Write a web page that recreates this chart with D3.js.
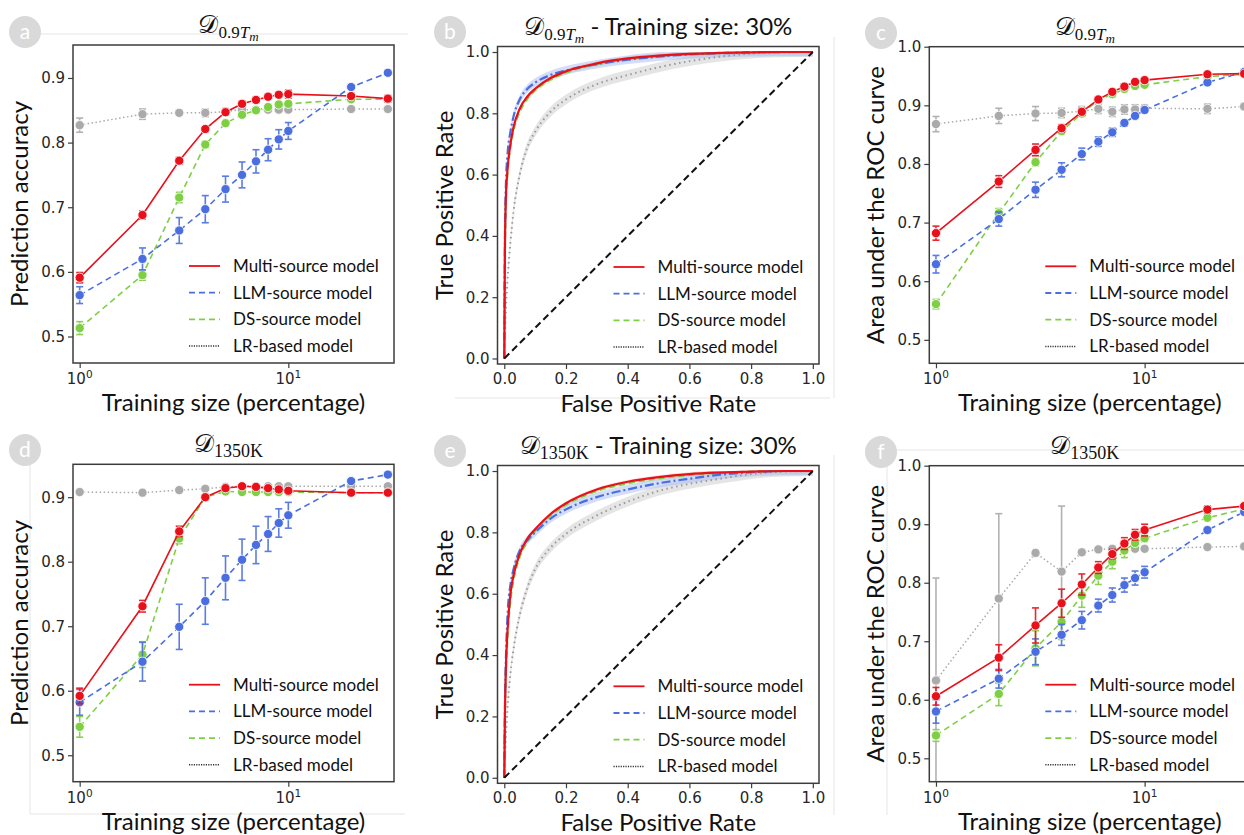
<!DOCTYPE html>
<html>
<head>
<meta charset="utf-8">
<script src="https://cdn.jsdelivr.net/npm/d3@7"></script>
<style>
  body { margin: 0; background: #fff; }
  svg { display: block; font-family: Lato, "Open Sans", sans-serif; }
</style>
</head>
<body>
<svg id="chart" width="1244" height="835"></svg>
<script>
// ---------- data ----------
const sizes = [1, 2, 3, 4, 5, 6, 7, 8, 9, 10, 20, 30];
const seriesNames = ['Multi-source model', 'LLM-source model', 'DS-source model', 'LR-based model'];

// panel a: prediction accuracy, D_0.9Tm
const accA_multi = [0.591, 0.688, 0.772, 0.821, 0.847, 0.860, 0.866, 0.871, 0.874, 0.875, 0.872, 0.868];
const accA_llm   = [0.564, 0.620, 0.664, 0.697, 0.728, 0.750, 0.771, 0.789, 0.805, 0.818, 0.886, 0.908];
const accA_ds    = [0.513, 0.595, 0.715, 0.797, 0.830, 0.843, 0.850, 0.855, 0.859, 0.860, 0.867, 0.867];
const accA_lr    = [0.827, 0.844, 0.846, 0.846, 0.848, 0.851, 0.851, 0.851, 0.851, 0.851, 0.852, 0.852];
const errA_multi = [0.008, 0.006, 0.005, 0.004, 0.004, 0.004, 0.004, 0.004, 0.004, 0.006, 0.004, 0.005];
const errA_llm   = [0.013, 0.017, 0.020, 0.021, 0.020, 0.020, 0.018, 0.017, 0.015, 0.013, 0.003, 0.003];
const errA_ds    = [0.010, 0.008, 0.008, 0.005, 0.004, 0.004, 0.004, 0.004, 0.004, 0.003, 0.003, 0.003];
const errA_lr    = [0.011, 0.008, 0.004, 0.006, 0.005, 0.004, 0.004, 0.004, 0.004, 0.004, 0.003, 0.003];

// panel c: AUC, D_0.9Tm
const aucC_multi = [0.682, 0.770, 0.824, 0.861, 0.889, 0.910, 0.923, 0.932, 0.940, 0.943, 0.953, 0.954];
const aucC_llm   = [0.629, 0.706, 0.756, 0.790, 0.817, 0.838, 0.854, 0.870, 0.882, 0.892, 0.939, 0.957];
const aucC_ds    = [0.561, 0.716, 0.803, 0.856, 0.886, 0.909, 0.919, 0.928, 0.933, 0.935, 0.949, 0.953];
const aucC_lr    = [0.868, 0.882, 0.886, 0.887, 0.890, 0.894, 0.889, 0.893, 0.893, 0.895, 0.894, 0.898];
const errC_multi = [0.012, 0.010, 0.010, 0.006, 0.006, 0.004, 0.004, 0.004, 0.004, 0.004, 0.003, 0.003];
const errC_llm   = [0.015, 0.012, 0.013, 0.012, 0.010, 0.008, 0.007, 0.005, 0.004, 0.004, 0.004, 0.004];
const errC_ds    = [0.008, 0.008, 0.006, 0.005, 0.005, 0.004, 0.004, 0.004, 0.004, 0.004, 0.003, 0.003];
const errC_lr    = [0.013, 0.013, 0.012, 0.008, 0.008, 0.008, 0.008, 0.008, 0.008, 0.006, 0.008, 0.005];

// panel d: prediction accuracy, D_1350K
const accD_multi = [0.592, 0.731, 0.847, 0.900, 0.914, 0.917, 0.916, 0.914, 0.912, 0.910, 0.907, 0.907];
const accD_llm   = [0.582, 0.645, 0.699, 0.739, 0.775, 0.803, 0.826, 0.843, 0.860, 0.872, 0.925, 0.935];
const accD_ds    = [0.544, 0.656, 0.836, 0.900, 0.909, 0.908, 0.908, 0.908, 0.908, 0.908, 0.907, 0.907];
const accD_lr    = [0.908, 0.907, 0.911, 0.913, 0.916, 0.917, 0.917, 0.917, 0.917, 0.917, 0.917, 0.917];
const errD_multi = [0.012, 0.009, 0.008, 0.004, 0.003, 0.003, 0.003, 0.003, 0.003, 0.003, 0.002, 0.002];
const errD_llm   = [0.020, 0.030, 0.035, 0.036, 0.034, 0.032, 0.029, 0.027, 0.022, 0.020, 0.003, 0.003];
const errD_ds    = [0.016, 0.020, 0.008, 0.004, 0.003, 0.003, 0.003, 0.003, 0.003, 0.003, 0.002, 0.002];
const errD_lr    = [0.003, 0.003, 0.003, 0.003, 0.003, 0.003, 0.003, 0.003, 0.003, 0.003, 0.003, 0.003];

// panel f: AUC, D_1350K
const aucF_multi = [0.606, 0.672, 0.727, 0.765, 0.797, 0.826, 0.849, 0.867, 0.882, 0.890, 0.925, 0.931];
const aucF_llm   = [0.580, 0.636, 0.682, 0.711, 0.736, 0.761, 0.779, 0.796, 0.808, 0.818, 0.890, 0.921];
const aucF_ds    = [0.539, 0.610, 0.688, 0.733, 0.778, 0.812, 0.836, 0.855, 0.868, 0.876, 0.911, 0.926];
const aucF_lr    = [0.633, 0.773, 0.851, 0.819, 0.852, 0.857, 0.858, 0.858, 0.858, 0.858, 0.861, 0.862];
const errF_multi = [0.015, 0.022, 0.030, 0.024, 0.018, 0.010, 0.008, 0.010, 0.009, 0.010, 0.006, 0.004];
const errF_llm   = [0.020, 0.016, 0.022, 0.018, 0.015, 0.011, 0.012, 0.012, 0.012, 0.010, 0.004, 0.004];
const errF_ds    = [0.010, 0.020, 0.030, 0.030, 0.020, 0.015, 0.012, 0.012, 0.008, 0.006, 0.005, 0.004];
const errF_lr    = [0.175, 0.145, 0.005, 0.112, 0.005, 0.004, 0.004, 0.004, 0.004, 0.004, 0.004, 0.004];

// ROC curves at 30% training size
const fpr = [0, 0.002, 0.005, 0.01, 0.02, 0.03, 0.05, 0.075, 0.1, 0.15, 0.2, 0.3, 0.4, 0.5, 0.6, 0.7, 0.8, 0.9, 1.0];
const rocB_multi = [0, 0.35, 0.52, 0.61, 0.70, 0.755, 0.815, 0.855, 0.88, 0.915, 0.937, 0.963, 0.979, 0.988, 0.994, 0.997, 0.999, 1, 1];
const rocB_llm   = [0, 0.38, 0.56, 0.66, 0.74, 0.79, 0.845, 0.88, 0.90, 0.925, 0.94, 0.96, 0.975, 0.985, 0.992, 0.996, 0.999, 1, 1];
const rocB_ds    = [0, 0.33, 0.50, 0.60, 0.69, 0.745, 0.805, 0.848, 0.875, 0.91, 0.933, 0.96, 0.977, 0.987, 0.993, 0.997, 0.999, 1, 1];
const rocB_lr    = [0, 0.08, 0.16, 0.25, 0.38, 0.48, 0.60, 0.69, 0.74, 0.805, 0.845, 0.895, 0.925, 0.95, 0.97, 0.985, 0.995, 0.999, 1];
const rocE_multi = [0, 0.20, 0.35, 0.47, 0.60, 0.66, 0.73, 0.78, 0.81, 0.86, 0.895, 0.94, 0.965, 0.98, 0.99, 0.995, 0.998, 1, 1];
const rocE_llm   = [0, 0.22, 0.38, 0.52, 0.63, 0.68, 0.74, 0.775, 0.80, 0.845, 0.875, 0.915, 0.94, 0.96, 0.975, 0.988, 0.996, 1, 1];
const rocE_ds    = [0, 0.19, 0.33, 0.45, 0.58, 0.645, 0.72, 0.77, 0.805, 0.855, 0.89, 0.935, 0.96, 0.976, 0.987, 0.994, 0.998, 1, 1];
const rocE_lr    = [0, 0.06, 0.13, 0.22, 0.34, 0.42, 0.53, 0.62, 0.68, 0.75, 0.795, 0.855, 0.90, 0.935, 0.958, 0.975, 0.99, 0.998, 1];
// half width of the shaded band around each ROC curve (multi, llm, ds, lr)
const rocBand = [0.006, 0.014, 0.008, 0.016];

const accTicks = [0.5, 0.6, 0.7, 0.8, 0.9];
const aucTicks = [0.5, 0.6, 0.7, 0.8, 0.9, 1.0];
const rocTicks = [0, 0.2, 0.4, 0.6, 0.8, 1.0];

// ---------- styles ----------
const colors = ['#e8101a', '#4a6ee0', '#7fcf45', '#aaaaaa'];
const dashes = [null, '6,4', '6,4', '1.5,2.5'];
const rocDashes = [null, '9,3,2,3', '6,4', '1.5,3.5'];

const svg = d3.select('#chart');
const tickFont = '"DejaVu Sans", sans-serif';

// faint panel separators
const sep = svg.append('g').attr('stroke', '#eeeeee').attr('stroke-width', 1.5);
[[40, 34, 408, 34], [455, 398, 830, 398], [834, 37, 834, 398], [30, 462, 30, 814],
 [30, 814, 405, 814], [897, 450, 1244, 450], [834, 455, 834, 815], [887, 455, 887, 815]]
  .forEach(l => sep.append('line').attr('x1', l[0]).attr('y1', l[1]).attr('x2', l[2]).attr('y2', l[3]));

function panelBadge(cx, cy, letter) {
  svg.append('circle').attr('cx', cx).attr('cy', cy).attr('r', 16).attr('fill', '#d9d9d9');
  svg.append('text').attr('x', cx).attr('y', cy + 7).attr('text-anchor', 'middle')
    .attr('fill', '#fff').attr('font-size', 21).text(letter);
}

function addTitle(cx, y, dataset, suffix) {
  const t = svg.append('text').attr('x', cx).attr('y', y).attr('text-anchor', 'middle')
    .attr('fill', '#111').attr('font-size', 24);
  t.append('tspan').attr('font-family', '"DejaVu Serif", serif').attr('font-size', 25).text('𝒟');
  if (dataset === '0.9Tm') {
    t.append('tspan').attr('font-family', '"Liberation Serif", serif').attr('font-size', 17).attr('dy', 5).text('0.9');
    t.append('tspan').attr('font-family', '"Liberation Serif", serif').attr('font-style', 'italic').attr('font-size', 17).text('T');
    t.append('tspan').attr('font-family', '"Liberation Serif", serif').attr('font-style', 'italic').attr('font-size', 13).attr('dy', 3).text('m');
    if (suffix) t.append('tspan').attr('dy', -8).text('\u00a0- ' + suffix);
  } else {
    t.append('tspan').attr('font-family', '"Liberation Serif", serif').attr('font-size', 18).attr('dy', 5).text('1350K');
    if (suffix) t.append('tspan').attr('dy', -5).text('\u00a0- ' + suffix);
  }
}

function frameAndLabels(p, x, y, xlabel, ylabel) {
  svg.append('rect').attr('x', p.x0).attr('y', p.y0).attr('width', p.w).attr('height', p.h)
    .attr('fill', 'none').attr('stroke', '#3c3c3c').attr('stroke-width', 1.5);
  svg.append('text').attr('x', p.x0 + p.w / 2).attr('y', p.y0 + p.h + 48)
    .attr('text-anchor', 'middle').attr('font-size', 24).attr('fill', '#111').text(xlabel);
  svg.append('text').attr('transform', `translate(${p.x0 - 45},${p.y0 + p.h / 2}) rotate(-90)`)
    .attr('text-anchor', 'middle').attr('font-size', 24).attr('fill', '#111').text(ylabel);
}

function styleAxis(g) {
  g.select('.domain').remove();
  g.selectAll('.tick line').attr('stroke', '#3c3c3c').attr('stroke-width', 1.2);
  g.selectAll('.tick text').attr('font-family', tickFont).attr('font-size', 15).attr('fill', '#262626');
}

function legend(p) {
  const g = svg.append('g');
  seriesNames.forEach((name, i) => {
    const yy = p.y0 + p.h - 97 + i * 26.7;
    g.append('line').attr('x1', p.x0 + 116).attr('x2', p.x0 + 147).attr('y1', yy).attr('y2', yy)
      .attr('stroke', i === 3 ? '#333' : colors[i]).attr('stroke-width', i === 3 ? 1.5 : 1.8)
      .attr('stroke-dasharray', i === 3 ? '1.2,1.2' : dashes[i]);
    g.append('text').attr('x', p.x0 + 160).attr('y', yy + 6).attr('font-size', 17)
      .attr('fill', '#111').text(name);
  });
}

let clipId = 0;
function clipFor(p) {
  const id = 'clip' + (clipId++);
  svg.append('clipPath').attr('id', id).append('rect')
    .attr('x', p.x0).attr('y', p.y0).attr('width', p.w).attr('height', p.h);
  return 'url(#' + id + ')';
}

function trainingPanel(p) {
  const x = d3.scaleLog().domain([0.929, 32.1]).range([p.x0, p.x0 + p.w]);
  const y = d3.scaleLinear().domain(p.yDomain).range([p.y0 + p.h, p.y0]);

  const plot = svg.append('g').attr('clip-path', clipFor(p));
  // draw order: LR, DS, LLM, Multi
  [3, 2, 1, 0].forEach(i => {
    const vals = p.vals[i], errs = p.errs[i];
    const pts = sizes.map((s, k) => ({ s, v: vals[k], e: errs[k] }));
    plot.append('path').datum(pts)
      .attr('d', d3.line().x(d => x(d.s)).y(d => y(d.v)))
      .attr('fill', 'none').attr('stroke', colors[i]).attr('stroke-width', i === 3 ? 1.5 : 1.6)
      .attr('stroke-dasharray', dashes[i]);
    const eb = plot.append('g').attr('stroke', colors[i]).attr('stroke-width', 1.6).attr('opacity', 0.9);
    pts.forEach(d => {
      const xx = x(d.s), y1 = y(d.v - d.e), y2 = y(d.v + d.e);
      eb.append('line').attr('x1', xx).attr('x2', xx).attr('y1', y1).attr('y2', y2);
      eb.append('line').attr('x1', xx - 3.5).attr('x2', xx + 3.5).attr('y1', y1).attr('y2', y1);
      eb.append('line').attr('x1', xx - 3.5).attr('x2', xx + 3.5).attr('y1', y2).attr('y2', y2);
    });
    plot.append('g').selectAll('circle').data(pts).join('circle')
      .attr('cx', d => x(d.s)).attr('cy', d => y(d.v)).attr('r', 4.6)
      .attr('fill', colors[i]).attr('stroke', '#fff').attr('stroke-width', 0.8);
  });

  const xa = svg.append('g').attr('transform', `translate(0,${p.y0 + p.h})`)
    .call(d3.axisBottom(x).tickValues([1, 10]).tickFormat('').tickSizeInner(5).tickSizeOuter(0));
  styleAxis(xa);
  [[1, '0'], [10, '1']].forEach(([v, e]) => {
    const t = svg.append('text').attr('x', x(v)).attr('y', p.y0 + p.h + 21).attr('text-anchor', 'middle')
      .attr('font-family', tickFont).attr('font-size', 15).attr('fill', '#262626');
    t.append('tspan').text('10');
    t.append('tspan').attr('font-size', 10.5).attr('dy', -6).text(e);
  });
  const ya = svg.append('g').attr('transform', `translate(${p.x0},0)`)
    .call(d3.axisLeft(y).tickValues(p.yTicks).tickFormat(d3.format('.1f')).tickSizeInner(5).tickSizeOuter(0).tickPadding(3));
  styleAxis(ya);

  frameAndLabels(p, x, y, 'Training size (percentage)', p.ylabel);
  legend(p);
  addTitle(p.x0 + p.w / 2 - 5, p.y0 - 12, p.dataset, null);
  panelBadge(p.badge[0], p.badge[1], p.letter);
}

function rocPanel(p) {
  const x = d3.scaleLinear().domain([-0.022, 1.02]).range([p.x0, p.x0 + p.w]);
  const y = d3.scaleLinear().domain([-0.018, 1.018]).range([p.y0 + p.h, p.y0]);
  const plot = svg.append('g').attr('clip-path', clipFor(p));
  const bandColors = ['#f3a3a3', '#9fb3f2', '#b9e5a0', '#cfcfcf'];
  const bandOpac = [0.35, 0.45, 0.35, 0.55];
  [3, 2, 1, 0].forEach(i => {
    const pts = fpr.map((f, k) => ({ f, t: p.tpr[i][k] }));
    plot.append('path').datum(pts)
      .attr('d', d3.area().curve(d3.curveMonotoneX).x(d => x(d.f))
        .y0(d => y(Math.max(0, d.t - rocBand[i]))).y1(d => y(Math.min(1, d.t + rocBand[i]))))
      .attr('fill', bandColors[i]).attr('opacity', bandOpac[i]);
  });
  [3, 2, 1, 0].forEach(i => {
    const pts = fpr.map((f, k) => ({ f, t: p.tpr[i][k] }));
    plot.append('path').datum(pts)
      .attr('d', d3.line().curve(d3.curveMonotoneX).x(d => x(d.f)).y(d => y(d.t)))
      .attr('fill', 'none').attr('stroke', i === 3 ? '#9a9a9a' : colors[i])
      .attr('stroke-width', i === 3 ? 2 : 2.2).attr('stroke-dasharray', rocDashes[i]);
  });
  plot.append('line').attr('x1', x(0)).attr('y1', y(0)).attr('x2', x(1)).attr('y2', y(1))
    .attr('stroke', '#111').attr('stroke-width', 2).attr('stroke-dasharray', '7,4');

  const xa = svg.append('g').attr('transform', `translate(0,${p.y0 + p.h})`)
    .call(d3.axisBottom(x).tickValues(rocTicks).tickFormat(d3.format('.1f')).tickSizeInner(5).tickSizeOuter(0).tickPadding(4));
  styleAxis(xa);
  const ya = svg.append('g').attr('transform', `translate(${p.x0},0)`)
    .call(d3.axisLeft(y).tickValues(rocTicks).tickFormat(d3.format('.1f')).tickSizeInner(5).tickSizeOuter(0).tickPadding(3));
  styleAxis(ya);

  frameAndLabels(p, x, y, 'False Positive Rate', 'True Positive Rate');
  legend(p);
  addTitle(p.x0 + p.w / 2, p.y0 - 12, p.dataset, 'Training size: 30%');
  panelBadge(p.badge[0], p.badge[1], p.letter);
}

trainingPanel({ x0: 73, y0: 45, w: 321, h: 318, yDomain: [0.459, 0.951], yTicks: accTicks,
  vals: [accA_multi, accA_llm, accA_ds, accA_lr], errs: [errA_multi, errA_llm, errA_ds, errA_lr],
  ylabel: 'Prediction accuracy', dataset: '0.9Tm', letter: 'a', badge: [25, 32] });
rocPanel({ x0: 497.5, y0: 46.5, w: 321.5, h: 317.5, tpr: [rocB_multi, rocB_llm, rocB_ds, rocB_lr],
  dataset: '0.9Tm', letter: 'b', badge: [450, 32] });
trainingPanel({ x0: 929.3, y0: 46.7, w: 321, h: 316.6, yDomain: [0.46, 1.0], yTicks: aucTicks,
  vals: [aucC_multi, aucC_llm, aucC_ds, aucC_lr], errs: [errC_multi, errC_llm, errC_ds, errC_lr],
  ylabel: 'Area under the ROC curve', dataset: '0.9Tm', letter: 'c', badge: [881, 33] });
trainingPanel({ x0: 73, y0: 464.3, w: 321, h: 317.4, yDomain: [0.459, 0.951], yTicks: accTicks,
  vals: [accD_multi, accD_llm, accD_ds, accD_lr], errs: [errD_multi, errD_llm, errD_ds, errD_lr],
  ylabel: 'Prediction accuracy', dataset: '1350K', letter: 'd', badge: [25, 450] });
rocPanel({ x0: 497.5, y0: 465.5, w: 321.5, h: 317.8, tpr: [rocE_multi, rocE_llm, rocE_ds, rocE_lr],
  dataset: '1350K', letter: 'e', badge: [450, 451] });
trainingPanel({ x0: 929.3, y0: 465.7, w: 321, h: 316, yDomain: [0.46, 1.0], yTicks: aucTicks,
  vals: [aucF_multi, aucF_llm, aucF_ds, aucF_lr], errs: [errF_multi, errF_llm, errF_ds, errF_lr],
  ylabel: 'Area under the ROC curve', dataset: '1350K', letter: 'f', badge: [881, 452] });
</script>
</body>
</html>
